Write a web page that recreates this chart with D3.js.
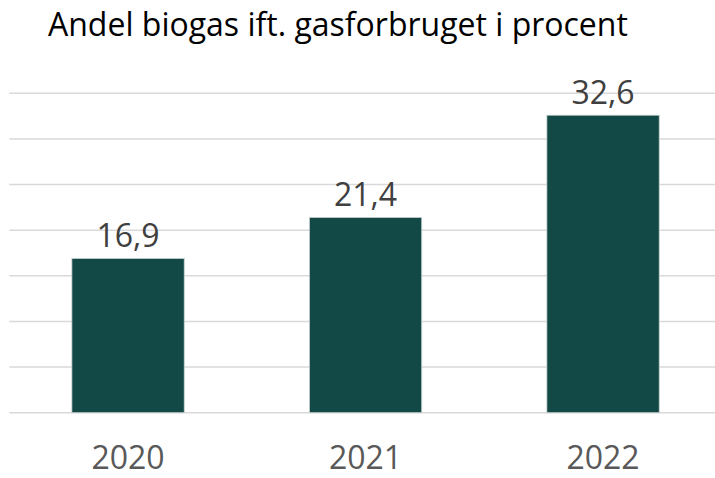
<!DOCTYPE html>
<html>
<head>
<meta charset="utf-8">
<script src="https://cdn.jsdelivr.net/npm/d3@7"></script>
<style>
  body { margin: 0; background: #fff; }
  text { font-family: "Open Sans", "Noto Sans", sans-serif; }
</style>
</head>
<body>
<div id="chart"></div>
<script>
const years = ["2020", "2021", "2022"];
const shares = [16.9, 21.4, 32.6];
const yTicks = [0, 5, 10, 15, 20, 25, 30, 35];
const titleText = "Andel biogas ift. gasforbruget i procent";

const width = 715, height = 478;

const svg = d3.select("#chart")
    .append("svg")
    .attr("width", width)
    .attr("height", height);

const x = d3.scaleBand()
    .domain(years)
    .range([9.3, 721.8])
    .paddingInner(0.527)
    .paddingOuter(0.2635);

const y = d3.scaleLinear()
    .domain([0, 35])
    .range([412.7, 93.3]);

// gridlines
svg.append("g")
    .selectAll("line")
    .data(yTicks)
    .enter()
    .append("line")
    .attr("x1", 9.3)
    .attr("x2", width)
    .attr("y1", d => y(d))
    .attr("y2", d => y(d))
    .attr("stroke", "#d9d9d9")
    .attr("stroke-width", 1.5);

// bars
svg.append("g")
    .selectAll("rect")
    .data(shares)
    .enter()
    .append("rect")
    .attr("x", (d, i) => x(years[i]))
    .attr("y", d => y(d))
    .attr("width", x.bandwidth())
    .attr("height", d => y(0) - y(d))
    .attr("fill", "#124845")
    .attr("stroke", "#c9d2d1")
    .attr("stroke-width", 0.8);

// value labels
svg.append("g")
    .selectAll("text")
    .data(shares)
    .enter()
    .append("text")
    .attr("x", (d, i) => x(years[i]) + x.bandwidth() / 2)
    .attr("y", d => y(d) - 11)
    .attr("text-anchor", "middle")
    .attr("font-size", 32)
    .attr("fill", "#404040")
    .text(d => d3.format(".1f")(d).replace(".", ","));

// x axis labels
const xAxis = d3.axisBottom(x).tickSize(0).tickPadding(0);
const gx = svg.append("g")
    .attr("transform", "translate(0," + y(0) + ")")
    .call(xAxis);
gx.select(".domain").remove();
gx.selectAll("text")
    .attr("font-family", "Open Sans, Noto Sans, sans-serif")
    .attr("font-size", 32)
    .attr("fill", "#595959")
    .attr("dy", 0)
    .attr("y", 56.5);

// title
svg.append("text")
    .attr("x", 48)
    .attr("y", 36)
    .attr("font-size", 32)
    .attr("fill", "#000")
    .text(titleText);
</script>
</body>
</html>
